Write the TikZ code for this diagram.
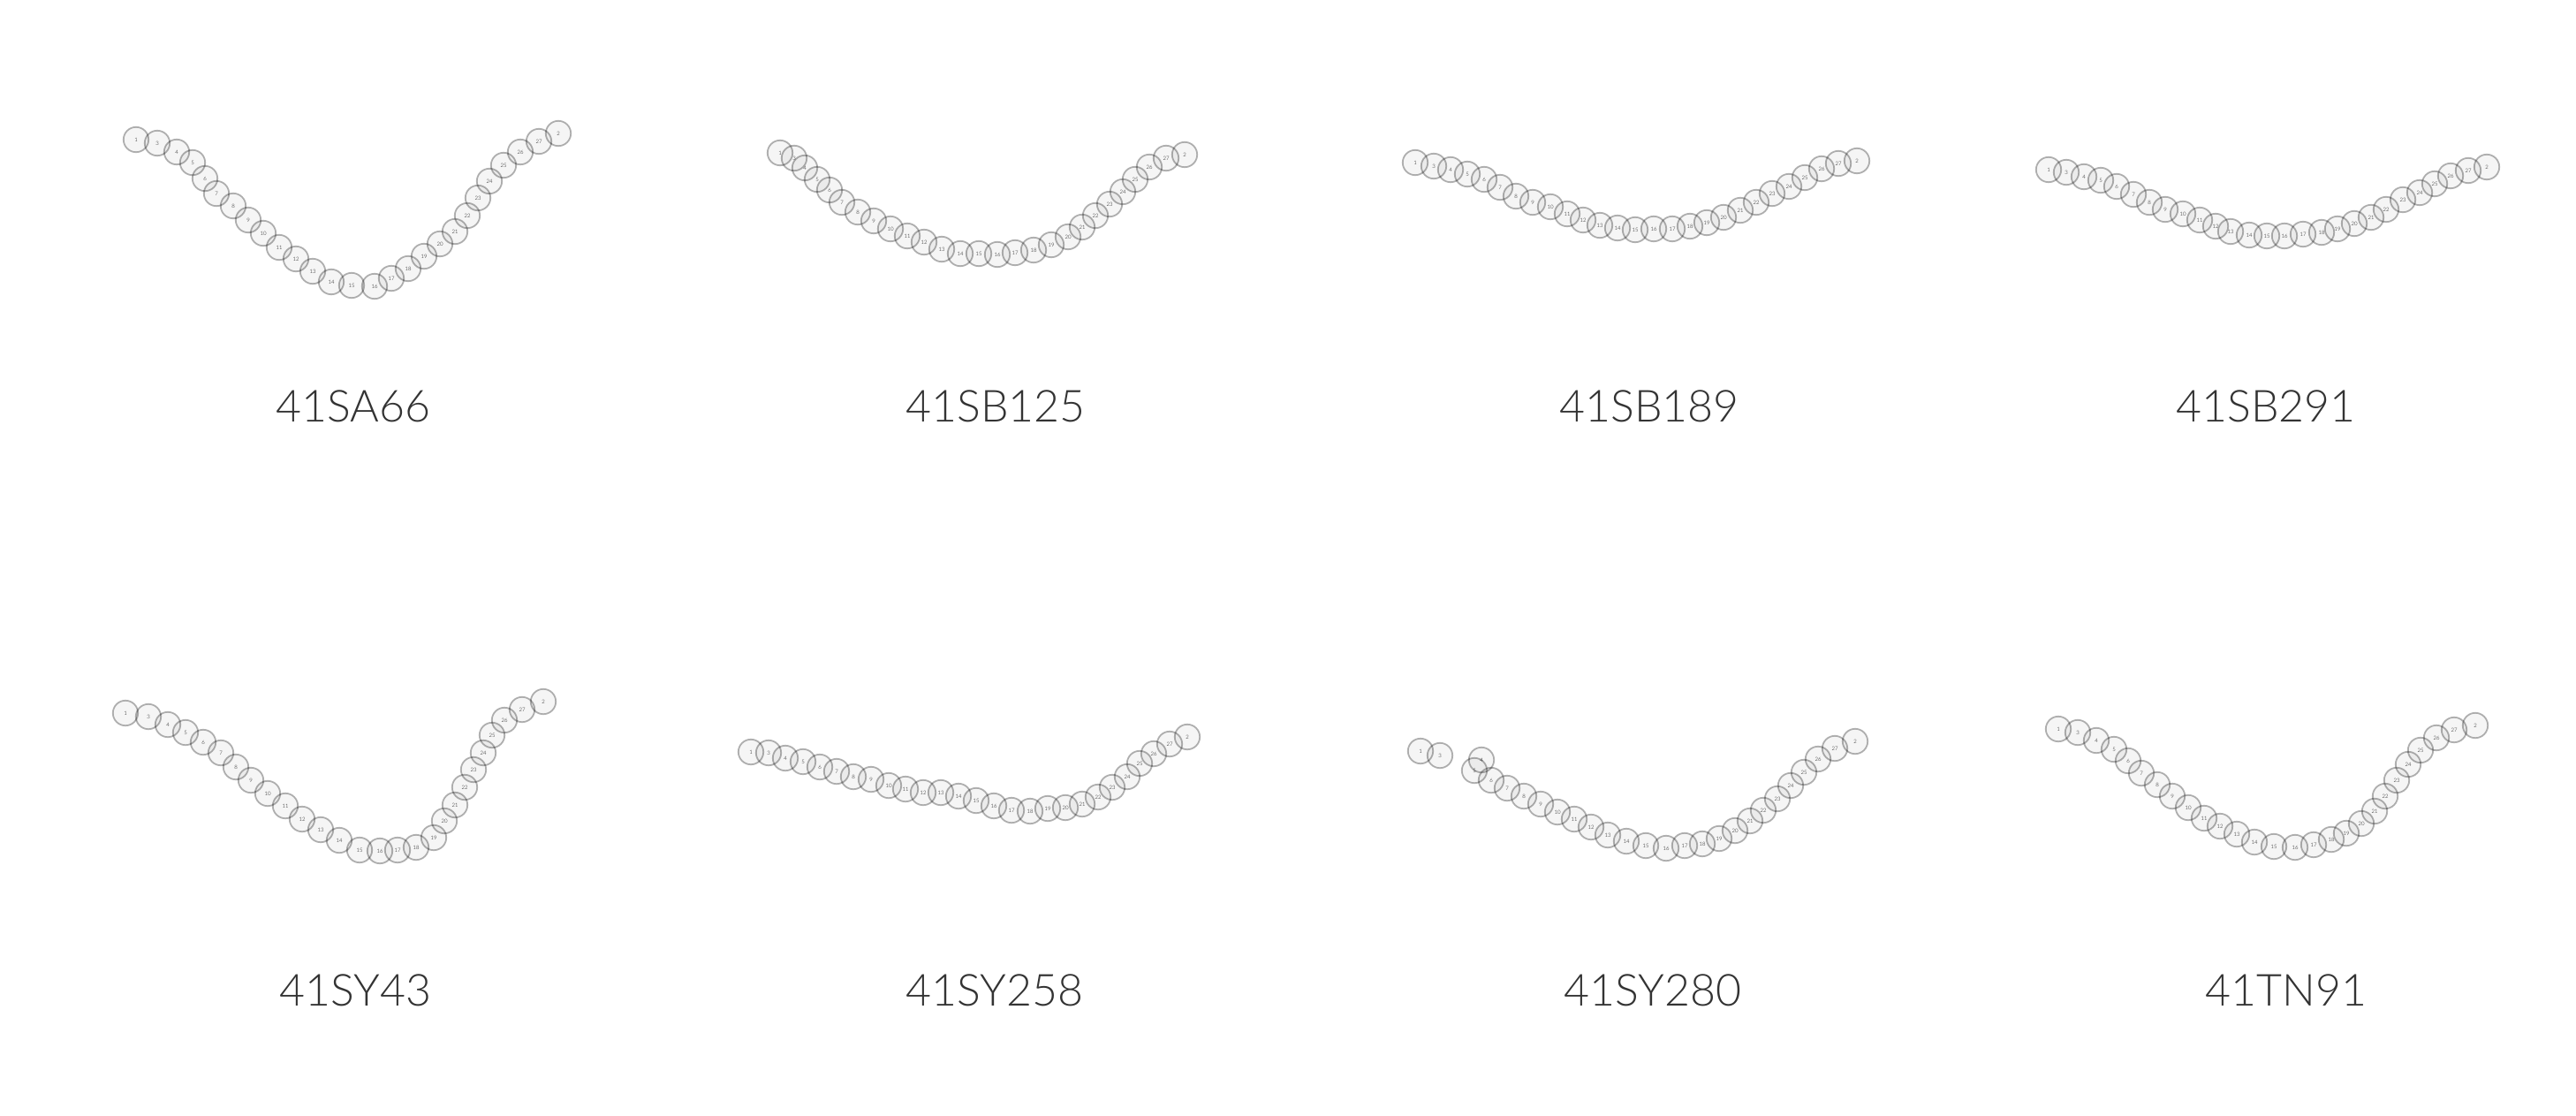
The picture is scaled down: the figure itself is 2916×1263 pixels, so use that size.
\documentclass[tikz,border=0pt]{standalone}
\usepackage{fontspec}
\setmainfont{Lato Light}
\usetikzlibrary{positioning}

% one chain of beads: name, list of x/y/number
\newcommand{\beadchain}[2]{%
  \foreach \bx/\by/\bn in {#2} {\node[bead] (#1-\bn) at (\bx,\by) {\bn};}}

\begin{document}
\begin{tikzpicture}[
    x=0.25pt, y=-0.25pt,
    bead/.style={draw=black, draw opacity=0.3, fill=black, fill opacity=0.04, text opacity=1,
                 circle, line width=0.45pt, minimum size=7.1pt, inner sep=0pt,
                 font=\fontsize{1.5}{2}\selectfont},
    chainlabel/.style={anchor=base, text=black!80, font=\fontsize{12.5}{15}\selectfont}
]
\useasboundingbox (0,0) rectangle (2916,1263);

% top row
\beadchain{sa66}{154/158/1, 178/162/3, 200/172/4, 218/184/5, 232/202/6, 245/219/7, 264/233/8,
  281/249/9, 298/264/10, 316/280/11, 335/293/12, 354/307/13, 375/319/14, 398/323/15, 424/324/16,
  443/315/17, 462/304/18, 480/290/19, 498/276/20, 515/262/21, 529/244/22, 541/224/23, 554/205/24,
  570/187/25, 589/172/26, 610/160/27, 632/151/2}
\node[chainlabel] (lab-sa66) at (400,477) {41SA66};

\beadchain{sb125}{883/173/1, 899/179/3, 911/190/4, 925/203/5, 939/215/6, 953/229/7, 971/240/8,
  989/250/9, 1008/259/10, 1027/267/11, 1046/274/12, 1066/282/13, 1087/287/14, 1108/287/15,
  1129/288/16, 1149/286/17, 1170/283/18, 1190/277/19, 1209/268/20, 1225/257/21, 1240/244/22,
  1256/231/23, 1271/217/24, 1285/203/25, 1301/189/26, 1320/179/27, 1341/175/2}
\node[chainlabel] (lab-sb125) at (1127,477) {41SB125};

\beadchain{sb189}{1602/184/1, 1623/188/3, 1642/192/4, 1661/197/5, 1680/203/6, 1698/212/7,
  1716/222/8, 1735/229/9, 1755/234/10, 1774/242/11, 1792/249/12, 1811/255/13, 1831/258/14,
  1851/260/15, 1872/259/16, 1893/259/17, 1913/256/18, 1932/252/19, 1951/246/20, 1970/238/21,
  1988/229/22, 2006/219/23, 2025/211/24, 2043/201/25, 2062/191/26, 2081/185/27, 2102/182/2}
\node[chainlabel] (lab-sb189) at (1867,477) {41SB189};

\beadchain{sb291}{2319/192/1, 2339/195/3, 2359/200/4, 2378/204/5, 2396/211/6, 2415/220/7,
  2433/229/8, 2451/237/9, 2471/242/10, 2490/249/11, 2508/256/12, 2525/262/13, 2546/266/14,
  2566/267/15, 2586/267/16, 2607/265/17, 2628/263/18, 2646/259/19, 2665/253/20, 2684/246/21,
  2701/237/22, 2720/226/23, 2739/218/24, 2756/208/25, 2774/199/26, 2794/193/27, 2815/189/2}
\node[chainlabel] (lab-sb291) at (2565,477) {41SB291};

% bottom row
\beadchain{sy43}{142/807/1, 168/811/3, 190/820/4, 210/829/5, 230/840/6, 250/852/7, 267/868/8,
  284/883/9, 303/898/10, 323/912/11, 342/927/12, 363/939/13, 384/951/14, 407/962/15, 430/963/16,
  450/962/17, 471/959/18, 491/948/19, 503/929/20, 515/911/21, 526/891/22, 536/871/23, 547/852/24,
  557/832/25, 571/815/26, 591/803/27, 615/794/2}
\node[chainlabel] (lab-sy43) at (402,1138) {41SY43};

\beadchain{sy258}{850/851/1, 870/852/3, 889/858/4, 909/862/5, 928/868/6, 947/873/7, 966/879/8,
  986/882/9, 1006/889/10, 1025/893/11, 1045/897/12, 1065/897/13, 1085/901/14, 1105/906/15,
  1125/912/16, 1145/917/17, 1166/918/18, 1186/915/19, 1206/914/20, 1225/910/21, 1243/902/22,
  1259/891/23, 1276/879/24, 1290/864/25, 1306/853/26, 1324/842/27, 1344/834/2}
\node[chainlabel] (lab-sy258) at (1126,1138) {41SY258};

\beadchain{sy280}{1608/850/1, 1630/855/3, 1677/860/4, 1669/872/5, 1688/883/6, 1706/892/7,
  1725/901/8, 1744/910/9, 1763/919/10, 1782/927/11, 1801/936/12, 1820/945/13, 1841/952/14,
  1863/957/15, 1886/960/16, 1907/957/17, 1927/955/18, 1946/949/19, 1964/940/20, 1981/929/21,
  1996/917/22, 2012/904/23, 2027/889/24, 2042/874/25, 2058/859/26, 2077/847/27, 2100/839/2}
\node[chainlabel] (lab-sy280) at (1871,1138) {41SY280};

\beadchain{tn91}{2330/825/1, 2352/829/3, 2373/838/4, 2393/848/5, 2409/861/6, 2424/875/7,
  2442/888/8, 2459/901/9, 2477/914/10, 2495/926/11, 2513/935/12, 2532/944/13, 2552/953/14,
  2574/958/15, 2598/959/16, 2619/956/17, 2639/950/18, 2656/943/19, 2673/932/20, 2688/918/21,
  2700/901/22, 2713/883/23, 2726/865/24, 2740/849/25, 2758/835/26, 2778/826/27, 2802/821/2}
\node[chainlabel] (lab-tn91) at (2588,1138) {41TN91};
\end{tikzpicture}
\end{document}
